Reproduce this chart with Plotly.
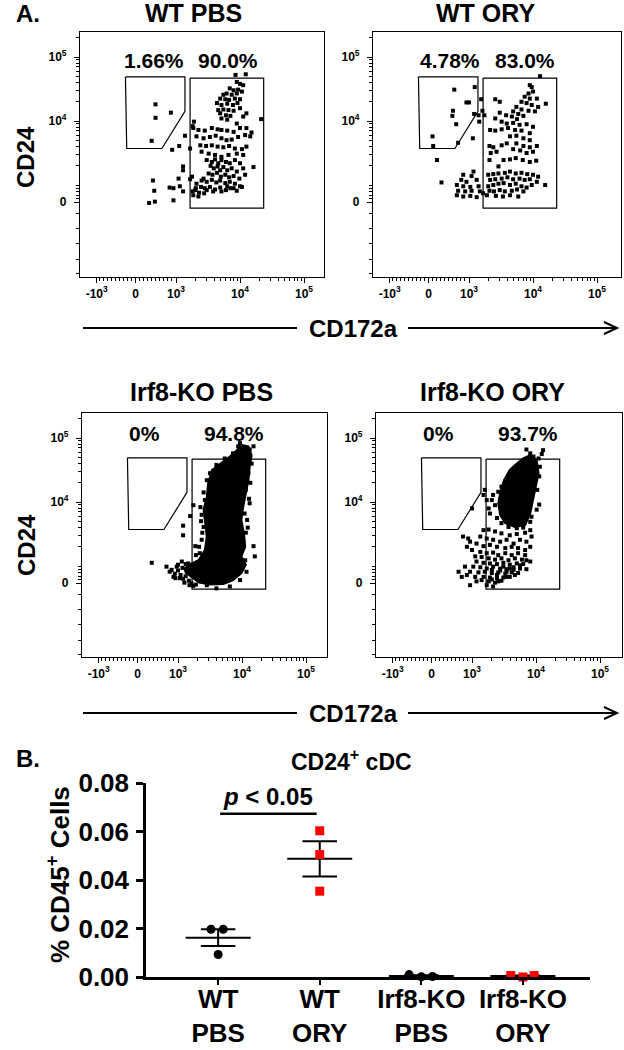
import math
import numpy as np
import plotly.graph_objects as go

W, H = 624, 1050
FONT = "Liberation Sans, Arial, Helvetica, sans-serif"

# ---------------- Panel A : flow cytometry (display units = log decades, logicle-like near 0)
panel_titles = ["WT PBS", "WT ORY", "Irf8-KO PBS", "Irf8-KO ORY"]
left_gate_pct = ["1.66%", "4.78%", "0%", "0%"]
right_gate_pct = ["90.0%", "83.0%", "94.8%", "93.7%"]

x_tick_vals = [1.76, 2.37, 3, 4, 5]
x_tick_text = ["-10<sup>3</sup>", "0", "10<sup>3</sup>", "10<sup>4</sup>", "10<sup>5</sup>"]
y_tick_vals = [2.73, 4, 5]
y_tick_text = ["0", "10<sup>4</sup>", "10<sup>5</sup>"]

gate_left_x = [2.21, 3.14, 3.14, 2.78, 2.23, 2.21]
gate_left_y = [4.69, 4.69, 4.15, 3.57, 3.57, 4.69]
gate_right_x = [3.22, 4.37, 4.37, 3.22, 3.22]
gate_right_y = [4.67, 4.67, 2.64, 2.64, 4.67]

wt_pbs_events = [
    (3.93, 4.72), (4.09, 4.73),
    (2.68, 4.26), (2.68, 4.05), (2.92, 4.13), (2.62, 3.69),
    (2.94, 3.55), (3.05, 3.61), (3.14, 3.77), (3.26, 3.92), (3.28, 3.99), (3.22, 3.57), (3.11, 3.29),
    (3.11, 3.23), (3.04, 3.10), (3.06, 2.98), (2.96, 2.95), (2.90, 2.96), (3.11, 2.90), (2.64, 3.07),
    (2.66, 2.91), (2.58, 2.72), (2.67, 2.74), (2.96, 2.76), (3.25, 3.13), (3.22, 3.09), (4.33, 4.03),
    (3.95, 4.61), (4.00, 4.58), (4.05, 4.56), (3.84, 4.51), (3.90, 4.48), (3.97, 4.49), (3.79, 4.43),
    (3.74, 4.41), (3.87, 4.41), (3.95, 4.43), (4.03, 4.46), (3.69, 4.35), (3.77, 4.34), (3.83, 4.33),
    (3.92, 4.35), (4.00, 4.34), (3.64, 4.28), (3.71, 4.25), (3.80, 4.27), (3.89, 4.25), (3.96, 4.28),
    (3.66, 4.17), (3.74, 4.18), (3.82, 4.17), (3.90, 4.16), (4.00, 4.20), (3.69, 4.12), (3.78, 4.09),
    (3.85, 4.08), (3.71, 4.04), (3.80, 4.02), (3.95, 3.96), (4.05, 4.07), (4.10, 4.12),
    (3.27, 3.89), (3.35, 3.86), (3.45, 3.85), (3.56, 3.89), (3.65, 3.87), (3.71, 3.86), (3.80, 3.85),
    (3.90, 3.83), (4.00, 3.89), (4.10, 3.89), (4.18, 3.82), (3.32, 3.76), (3.43, 3.73), (3.53, 3.75),
    (3.62, 3.77), (3.71, 3.73), (3.79, 3.70), (3.87, 3.71), (3.97, 3.75), (4.08, 3.78), (4.16, 3.76),
    (3.38, 3.62), (3.47, 3.61), (3.56, 3.62), (3.65, 3.60), (3.74, 3.59), (3.83, 3.61), (3.92, 3.57),
    (4.03, 3.56), (4.10, 3.60), (3.40, 3.52), (3.51, 3.49), (3.61, 3.47), (3.71, 3.44), (3.82, 3.47),
    (3.95, 3.49), (4.05, 3.47),
    (3.48, 3.39), (3.56, 3.36), (3.61, 3.40), (3.66, 3.34), (3.71, 3.39), (3.78, 3.36), (3.84, 3.34),
    (3.92, 3.39), (4.00, 3.34), (3.54, 3.30), (3.59, 3.26), (3.65, 3.29), (3.69, 3.23), (3.74, 3.28),
    (3.80, 3.23), (3.87, 3.26), (3.95, 3.21), (4.05, 3.26), (4.21, 3.28), (3.51, 3.18), (3.57, 3.16),
    (3.64, 3.19), (3.70, 3.13), (3.77, 3.16), (3.83, 3.12), (3.90, 3.14), (3.99, 3.10), (4.08, 3.16),
    (3.43, 3.10), (3.48, 3.05), (3.56, 3.08), (3.63, 3.04), (3.69, 3.07), (3.77, 3.03), (3.84, 3.05),
    (3.92, 3.02), (4.00, 2.98), (3.32, 3.02), (3.39, 2.97), (3.45, 2.95), (3.53, 2.97), (3.61, 2.93),
    (3.69, 2.96), (3.78, 2.92), (3.85, 2.95), (3.95, 2.91), (4.03, 2.97), (3.30, 2.92), (3.36, 2.88),
    (3.44, 2.87), (3.27, 2.84), (3.35, 2.82), (3.26, 2.90), (3.31, 2.95), (3.40, 3.07), (3.48, 2.92),
    (3.58, 2.90), (3.71, 2.90), (3.80, 2.98), (3.90, 2.95),
]

wt_ory_events = [
    (4.11, 4.70),
    (2.77, 4.49), (2.96, 4.29), (3.00, 4.29), (3.09, 4.53), (2.75, 4.16), (2.74, 4.08), (2.80, 3.95),
    (3.08, 4.11), (3.15, 4.09), (3.19, 4.34), (3.06, 3.73), (2.43, 3.76), (2.44, 3.61), (2.50, 3.39),
    (2.57, 3.04), (2.83, 3.66), (3.21, 4.16), (3.24, 4.09), (3.16, 3.99),
    (3.41, 4.34), (3.48, 4.30), (3.95, 4.56), (3.98, 4.53), (3.93, 4.43), (4.00, 4.46), (3.87, 4.38),
    (3.95, 4.35), (4.06, 4.35), (3.82, 4.30), (3.90, 4.28), (3.98, 4.25), (4.08, 4.22), (4.20, 4.27),
    (3.74, 4.22), (3.82, 4.18), (3.93, 4.16), (4.03, 4.15), (3.69, 4.15), (3.77, 4.11), (3.85, 4.08),
    (3.67, 4.07), (3.75, 4.03), (3.58, 4.09), (3.48, 4.13), (3.41, 4.04), (3.51, 3.99), (3.59, 3.96),
    (3.69, 3.97), (3.79, 3.94), (3.90, 3.95), (4.00, 3.91), (3.33, 3.86), (3.41, 3.85), (3.51, 3.87),
    (3.61, 3.89), (3.72, 3.86), (3.82, 3.85), (3.95, 3.81), (3.64, 3.76), (3.74, 3.77), (3.85, 3.73),
    (3.95, 3.70), (3.32, 3.61), (3.38, 3.59), (3.51, 3.62), (3.59, 3.65), (3.74, 3.65), (3.85, 3.61),
    (3.95, 3.59), (4.06, 3.61), (3.34, 3.50), (3.43, 3.52), (3.69, 3.56), (3.80, 3.54), (3.90, 3.50),
    (4.00, 3.52), (3.32, 3.39), (3.54, 3.39), (3.64, 3.40), (3.73, 3.42), (3.84, 3.39), (3.95, 3.36),
    (4.05, 3.38), (3.46, 3.29),
    (3.30, 3.16), (3.38, 3.17), (3.46, 3.18), (3.56, 3.19), (3.64, 3.21), (3.73, 3.18), (3.82, 3.19),
    (3.91, 3.17), (4.00, 3.16), (4.08, 3.13), (3.33, 3.08), (3.41, 3.09), (3.51, 3.10), (3.60, 3.12),
    (3.69, 3.09), (3.79, 3.10), (3.87, 3.08), (3.95, 3.09), (4.06, 3.05), (4.19, 3.00), (3.30, 2.98),
    (3.38, 3.00), (3.46, 3.02), (3.54, 3.03), (3.64, 3.00), (3.73, 3.02), (3.82, 2.98), (3.90, 2.96),
    (3.98, 3.00), (3.32, 2.91), (3.39, 2.90), (3.48, 2.92), (3.56, 2.90), (3.67, 2.91), (3.75, 2.93),
    (3.85, 2.90), (3.42, 2.83), (3.53, 2.82), (3.64, 2.84), (3.77, 2.82), (3.28, 2.84),
    (2.91, 3.16), (3.07, 3.21), (3.04, 3.14), (2.88, 3.08), (2.96, 3.05), (3.12, 3.08), (2.81, 3.00),
    (2.91, 2.98), (3.02, 2.97), (3.15, 2.98), (2.83, 2.91), (2.94, 2.90), (3.04, 2.91), (3.17, 2.90),
    (2.81, 2.84), (2.91, 2.82), (3.02, 2.83), (3.12, 2.81), (3.22, 2.87),
]

# dense core outline (area where events fully overlap) + individual events
ko_pbs_core = [
    (3.99, 4.89), (4.10, 4.87), (4.15, 4.73), (4.12, 4.55), (4.10, 4.34), (4.06, 4.14), (4.02, 3.93),
    (3.99, 3.72), (4.03, 3.51), (4.05, 3.30), (3.99, 3.15), (4.06, 3.02), (3.99, 2.89), (3.86, 2.78),
    (3.71, 2.72), (3.50, 2.71), (3.33, 2.74), (3.22, 2.82), (3.12, 2.90), (3.10, 2.96), (3.18, 3.02),
    (3.32, 3.09), (3.42, 3.25), (3.45, 3.46), (3.42, 3.67), (3.40, 3.88), (3.45, 4.08),
    (3.47, 4.29), (3.53, 4.50), (3.66, 4.60), (3.81, 4.71), (3.92, 4.81), (3.99, 4.89),
]
ko_pbs_events = [
    (2.59, 3.05), (3.08, 3.63), (3.08, 3.48), (3.24, 3.95), (3.19, 3.78), (3.27, 3.31), (3.28, 3.17),
    (3.42, 4.03), (4.12, 3.98), (4.06, 3.52), (4.18, 3.31), (4.20, 3.15), (4.10, 4.45), (4.07, 4.66),
    (4.12, 4.82), (3.94, 4.87), (4.18, 4.87), (2.82, 2.99), (2.87, 2.91), (2.93, 2.83), (3.03, 2.81),
    (3.24, 2.69), (3.37, 3.80), (3.40, 3.61), (3.37, 3.41), (3.34, 3.20), (3.16, 3.04), (3.06, 3.07),
    (2.98, 2.99), (3.97, 2.78), (4.07, 2.91), (4.05, 3.09), (4.08, 3.72), (4.06, 4.19), (3.45, 4.34),
    (3.50, 4.45), (3.60, 4.58), (3.73, 4.68), (3.86, 4.76), (3.97, 4.92), (3.81, 2.68), (3.60, 2.65),
    (3.14, 2.91), (3.45, 2.70),
    (2.90, 2.94), (2.95, 2.88), (3.00, 2.93), (3.04, 2.86), (3.08, 2.80), (3.12, 2.84), (3.17, 2.77),
    (3.21, 2.73), (3.00, 3.02), (3.07, 2.97), (3.12, 3.03), (2.96, 2.81), (3.10, 2.74), (3.18, 2.70),
    (3.28, 2.71), (3.33, 3.30), (3.38, 3.52), (3.36, 3.70), (3.35, 3.92), (3.40, 4.15),
    (4.02, 3.40), (4.09, 3.60), (4.04, 3.82), (4.11, 4.05), (4.13, 4.30), (4.15, 4.60),
]

ko_ory_core = [
    (3.91, 4.73), (4.01, 4.66), (4.04, 4.45), (4.00, 4.24), (3.96, 4.03), (3.91, 3.82), (3.83, 3.64),
    (3.67, 3.61), (3.52, 3.67), (3.44, 3.80), (3.41, 3.98), (3.44, 4.14), (3.50, 4.34), (3.59, 4.50),
    (3.70, 4.60), (3.80, 4.68), (3.91, 4.73),
]
ko_ory_events = [
    (3.85, 4.82), (4.11, 4.81), (4.09, 4.75), (3.91, 4.76), (3.96, 4.71), (4.04, 4.68),
    (4.06, 4.55), (4.05, 4.40), (4.02, 4.19), (4.05, 3.96), (4.01, 3.88), (3.93, 3.77), (3.91, 3.69),
    (3.46, 4.24), (3.41, 4.16), (3.33, 4.11), (3.31, 4.03), (3.36, 3.95), (3.26, 3.90), (3.28, 3.82),
    (3.39, 3.75), (3.46, 3.67), (3.57, 3.61), (3.70, 3.59), (3.80, 3.60), (3.20, 4.19), (3.18, 4.11),
    (3.23, 4.03), (3.00, 3.90),
    (3.18, 3.56), (3.26, 3.57), (3.36, 3.54), (3.46, 3.51), (3.59, 3.48), (3.70, 3.50), (3.83, 3.52),
    (3.91, 3.56), (3.93, 3.46), (3.13, 3.46), (3.23, 3.43), (3.33, 3.41), (3.44, 3.38), (3.54, 3.41),
    (3.65, 3.35), (3.75, 3.41), (3.85, 3.38), (3.07, 3.35), (3.18, 3.31), (3.28, 3.33), (3.39, 3.30),
    (3.52, 3.28), (3.62, 3.30), (3.72, 3.28), (3.83, 3.25), (3.91, 3.30), (2.86, 3.46), (2.94, 3.43),
    (2.97, 3.38), (2.92, 3.30), (3.00, 3.25),
    (3.13, 3.22), (3.23, 3.20), (3.33, 3.21), (3.41, 3.17), (3.52, 3.20), (3.62, 3.17), (3.72, 3.20),
    (3.83, 3.17), (3.05, 3.15), (3.15, 3.14), (3.26, 3.12), (3.36, 3.10), (3.46, 3.12), (3.57, 3.09),
    (3.67, 3.12), (3.78, 3.10), (3.85, 3.09), (3.07, 3.07), (3.18, 3.05), (3.28, 3.04), (3.39, 3.03),
    (3.49, 3.05), (3.59, 3.02), (3.70, 3.04), (3.80, 3.03), (3.91, 3.07), (3.02, 2.99), (3.13, 2.98),
    (3.23, 2.96), (3.33, 2.99), (3.44, 2.96), (3.54, 2.95), (3.65, 2.98), (3.75, 2.96), (3.85, 2.95),
    (2.97, 2.91), (3.10, 2.90), (3.20, 2.91), (3.31, 2.89), (3.41, 2.90), (3.52, 2.88), (3.62, 2.90),
    (3.72, 2.89), (2.92, 2.86), (3.05, 2.83), (3.18, 2.83), (3.28, 2.82), (3.39, 2.81), (3.49, 2.82),
    (3.59, 2.83), (3.15, 2.78), (3.26, 2.76), (3.36, 2.74), (3.46, 2.77), (2.97, 2.70), (3.07, 2.76),
    (2.79, 2.91), (2.89, 2.99), (2.84, 2.83), (3.33, 2.68), (3.23, 2.70),
    (3.44, 2.93), (3.54, 2.91), (3.65, 2.94), (3.49, 2.99), (3.59, 2.96), (3.67, 2.86), (3.39, 2.86),
    (3.31, 2.94), (3.75, 3.01), (3.54, 2.83), (3.41, 2.76), (3.31, 2.79),
]

panel_events = [wt_pbs_events, wt_ory_events, ko_pbs_events, ko_ory_events]
panel_cores = [None, None, ko_pbs_core, ko_ory_core]

# ---------------- Panel B : dot plot
group_labels = ["WT<br>PBS", "WT<br>ORY", "Irf8-KO<br>PBS", "Irf8-KO<br>ORY"]
wt_pbs_vals = [0.0197, 0.0197, 0.0093]
wt_ory_vals = [0.0603, 0.0505, 0.0354]
ko_pbs_vals = [0.0010, 0.0001, 0.0002]
ko_ory_vals = [0.0006, 0.0000, 0.0006]
wt_pbs_jit = [-0.07, 0.05, 0.0]
wt_ory_jit = [0.0, 0.0, 0.0]
ko_pbs_jit = [-0.12, 0.0, 0.11]
ko_ory_jit = [-0.12, 0.0, 0.11]
sig_x = [0.02, 0.97]
sig_y = 0.0673
y_ticks_b = [0.0, 0.02, 0.04, 0.06, 0.08]

# ---------------------------------------------------------------------------
def fx(px):
    return px / W


def fy(py):
    return 1 - py / H


def paper_text(px, py, text, size, angle=0):
    return dict(x=fx(px), y=fy(py), xref="paper", yref="paper", xanchor="center",
                yanchor="middle", text=text, textangle=angle, showarrow=False,
                font=dict(size=size, weight="bold"))


x_minor = [3 + math.log10(k) for k in range(2, 10)] + [4 + math.log10(k) for k in range(2, 10)]
x_minor += [2.37 + 0.62 * v / 1000 for v in range(-900, 1000, 100) if v != 0]
y_minor = [3 + math.log10(k) for k in range(2, 10)] + [4 + math.log10(k) for k in range(2, 10)]
y_minor += [5.301, 3.0] + [2.73 + 0.27 * v / 1000 for v in range(200, 1000, 200)]
y_minor += [2.56, 2.32, 2.08, 1.84, 1.62]

tick_font = dict(family=FONT, size=12, color="black", weight="bold")


def flow_x(domain, rng, anchor):
    return dict(domain=domain, range=rng, anchor=anchor, tickmode="array", automargin=False,
                tickvals=x_tick_vals, ticktext=x_tick_text, ticks="outside", ticklen=5,
                tickwidth=1.2, tickcolor="black", showline=True, linecolor="black",
                linewidth=1.2, mirror=True, showgrid=False, zeroline=False, tickfont=tick_font,
                minor=dict(tickmode="array", tickvals=x_minor, ticks="outside", ticklen=3,
                           tickwidth=1, tickcolor="black", showgrid=False))


def flow_y(domain, rng, anchor):
    return dict(domain=domain, range=rng, anchor=anchor, tickmode="array", automargin=False,
                tickvals=y_tick_vals, ticktext=y_tick_text, ticks="outside", ticklen=5,
                tickwidth=1.2, tickcolor="black", showline=True, linecolor="black",
                linewidth=1.2, mirror=True, showgrid=False, zeroline=False, tickfont=tick_font,
                ticklabelstandoff=5,
                minor=dict(tickmode="array", tickvals=y_minor, ticks="outside", ticklen=3,
                           tickwidth=1, tickcolor="black", showgrid=False))


# frame pixel boxes (left, right, top, bottom)
frames = [(80, 324, 32, 277), (373, 621, 32, 277), (82, 327, 413, 657), (376, 622, 413, 657)]
ten4_px = [121, 121, 502, 502]  # pixel row of 10^4 used to set each y range

fig = go.Figure()
layout = dict(width=W, height=H, margin=dict(l=0, r=0, t=0, b=0, pad=0), autosize=False,
              paper_bgcolor="white", plot_bgcolor="white", showlegend=False,
              font=dict(family=FONT, color="black"))
annotations = []
shapes = []

pct_pos = [(2.66, 3.81, 4.94), (2.70, 3.875, 4.94), (2.47, 3.875, 5.07), (2.47, 3.875, 5.07)]
title_pos = [(193, 13), (485, 13), (201, 392), (492, 392)]

for i in range(4):
    n = i + 1
    xa = "x" if n == 1 else f"x{n}"
    ya = "y" if n == 1 else f"y{n}"
    l, r, t, b = frames[i]
    xr = [1.5, 1.5 + (r - l) / 64]
    yr = [4 - (b - ten4_px[i]) / 64, 4 + (ten4_px[i] - t) / 64]
    layout["xaxis" if n == 1 else f"xaxis{n}"] = flow_x([fx(l), fx(r)], xr, ya)
    layout["yaxis" if n == 1 else f"yaxis{n}"] = flow_y([fy(b), fy(t)], yr, xa)

    core = panel_cores[i]
    if core is not None:
        fig.add_trace(go.Scatter(x=[p[0] for p in core], y=[p[1] for p in core], mode="lines",
                                 fill="toself", fillcolor="black",
                                 line=dict(color="black", width=2), xaxis=xa, yaxis=ya,
                                 hoverinfo="skip"))
    ev = panel_events[i]
    fig.add_trace(go.Scatter(x=[p[0] for p in ev], y=[p[1] for p in ev], mode="markers",
                             marker=dict(symbol="square", size=4, color="black",
                                         line=dict(width=0)),
                             xaxis=xa, yaxis=ya))
    fig.add_trace(go.Scatter(x=gate_left_x, y=gate_left_y, mode="lines",
                             line=dict(color="black", width=1.2), xaxis=xa, yaxis=ya))
    fig.add_trace(go.Scatter(x=gate_right_x, y=gate_right_y, mode="lines",
                             line=dict(color="black", width=1.2), xaxis=xa, yaxis=ya))

    lx, rx, py_ = pct_pos[i]
    annotations.append(dict(x=lx, y=py_, xref=xa, yref=ya, text=left_gate_pct[i],
                            xanchor="center", yanchor="middle",
                            showarrow=False, font=dict(size=21, weight="bold")))
    annotations.append(dict(x=rx, y=py_, xref=xa, yref=ya, text=right_gate_pct[i],
                            xanchor="center", yanchor="middle",
                            showarrow=False, font=dict(size=21, weight="bold")))
    tx, ty = title_pos[i]
    annotations.append(paper_text(tx, ty, panel_titles[i], 25))

# axis titles panel A
for cy in (157, 545):
    annotations.append(paper_text(26, cy, "CD24", 24, -90))
for ay in (328, 713):
    annotations.append(paper_text(353, ay, "CD172a", 24))
    shapes.append(dict(type="line", xref="paper", yref="paper", x0=fx(83), x1=fx(297),
                       y0=fy(ay), y1=fy(ay), line=dict(color="black", width=2)))
    shapes.append(dict(type="line", xref="paper", yref="paper", x0=fx(408), x1=fx(616),
                       y0=fy(ay), y1=fy(ay), line=dict(color="black", width=2)))
    shapes.append(dict(type="path", xref="paper", yref="paper",
                       path=f"M {fx(604)} {fy(ay - 6)} L {fx(617)} {fy(ay)} L {fx(604)} {fy(ay + 6)}",
                       line=dict(color="black", width=2)))

annotations.append(paper_text(28, 13, "A.", 24))
annotations.append(paper_text(28, 758, "B.", 24))

# ---------------- Panel B
layout["xaxis5"] = dict(domain=[fx(146), fx(590)], range=[-0.71, 3.66], anchor="y5",
                        automargin=False, ticklabelstandoff=-8,
                        tickmode="array", tickvals=[0, 1, 2, 3], ticktext=group_labels,
                        ticks="outside", ticklen=5, tickwidth=2, tickcolor="black",
                        showline=True, linecolor="black", linewidth=2.5, showgrid=False,
                        zeroline=False, tickfont=dict(family=FONT, size=26, color="black",
                                                      weight="bold"))
layout["yaxis5"] = dict(domain=[fy(977), fy(783)], range=[0, 0.08], anchor="x5",
                        automargin=False,
                        tickmode="array", tickvals=y_ticks_b, tickformat=".2f",
                        ticks="outside", ticklen=7, tickwidth=2.5, tickcolor="black",
                        showline=True, linecolor="black", linewidth=2.5, showgrid=False,
                        zeroline=False, ticklabelstandoff=2,
                        tickfont=dict(family=FONT, size=26, color="black", weight="bold"))

groups = [(wt_pbs_vals, wt_pbs_jit, "circle", "black"),
          (wt_ory_vals, wt_ory_jit, "square", "#ff0000"),
          (ko_pbs_vals, ko_pbs_jit, "circle", "black"),
          (ko_ory_vals, ko_ory_jit, "square", "#ff0000")]

ex, ey = [], []
for gi, (vals, jit, sym, col) in enumerate(groups):
    m = float(np.mean(vals))
    s = float(np.std(vals, ddof=1) / np.sqrt(len(vals)))
    ex += [gi - 0.32, gi + 0.32, None, gi - 0.17, gi + 0.17, None,
           gi - 0.17, gi + 0.17, None, gi, gi, None]
    ey += [m, m, None, m + s, m + s, None, m - s, m - s, None, m - s, m + s, None]
fig.add_trace(go.Scatter(x=ex, y=ey, mode="lines", line=dict(color="black", width=2),
                         xaxis="x5", yaxis="y5", cliponaxis=False))
for gi, (vals, jit, sym, col) in enumerate(groups):
    fig.add_trace(go.Scatter(x=[gi + j for j in jit], y=vals, mode="markers",
                             marker=dict(symbol=sym, size=9, color=col, line=dict(width=0)),
                             xaxis="x5", yaxis="y5", cliponaxis=False))

fig.add_trace(go.Scatter(x=sig_x, y=[sig_y, sig_y], mode="lines",
                         line=dict(color="black", width=2.5), xaxis="x5", yaxis="y5",
                         cliponaxis=False))
annotations.append(dict(x=sum(sig_x) / 2, y=sig_y, xref="x5", yref="y5", xanchor="center",
                        yanchor="bottom", yshift=2, text="<i>p</i> &lt; 0.05", showarrow=False,
                        font=dict(size=24, weight="bold")))
annotations.append(paper_text(351, 760, "CD24<sup>+</sup> cDC", 23))
annotations.append(paper_text(58, 875, "% CD45<sup>+</sup> Cells", 26, -90))

layout["annotations"] = annotations
layout["shapes"] = shapes
fig.update_layout(**layout)
fig.write_html("out.html", config={"displayModeBar": False},
               post_script="document.body.style.margin='0';document.body.style.overflow='hidden';")
